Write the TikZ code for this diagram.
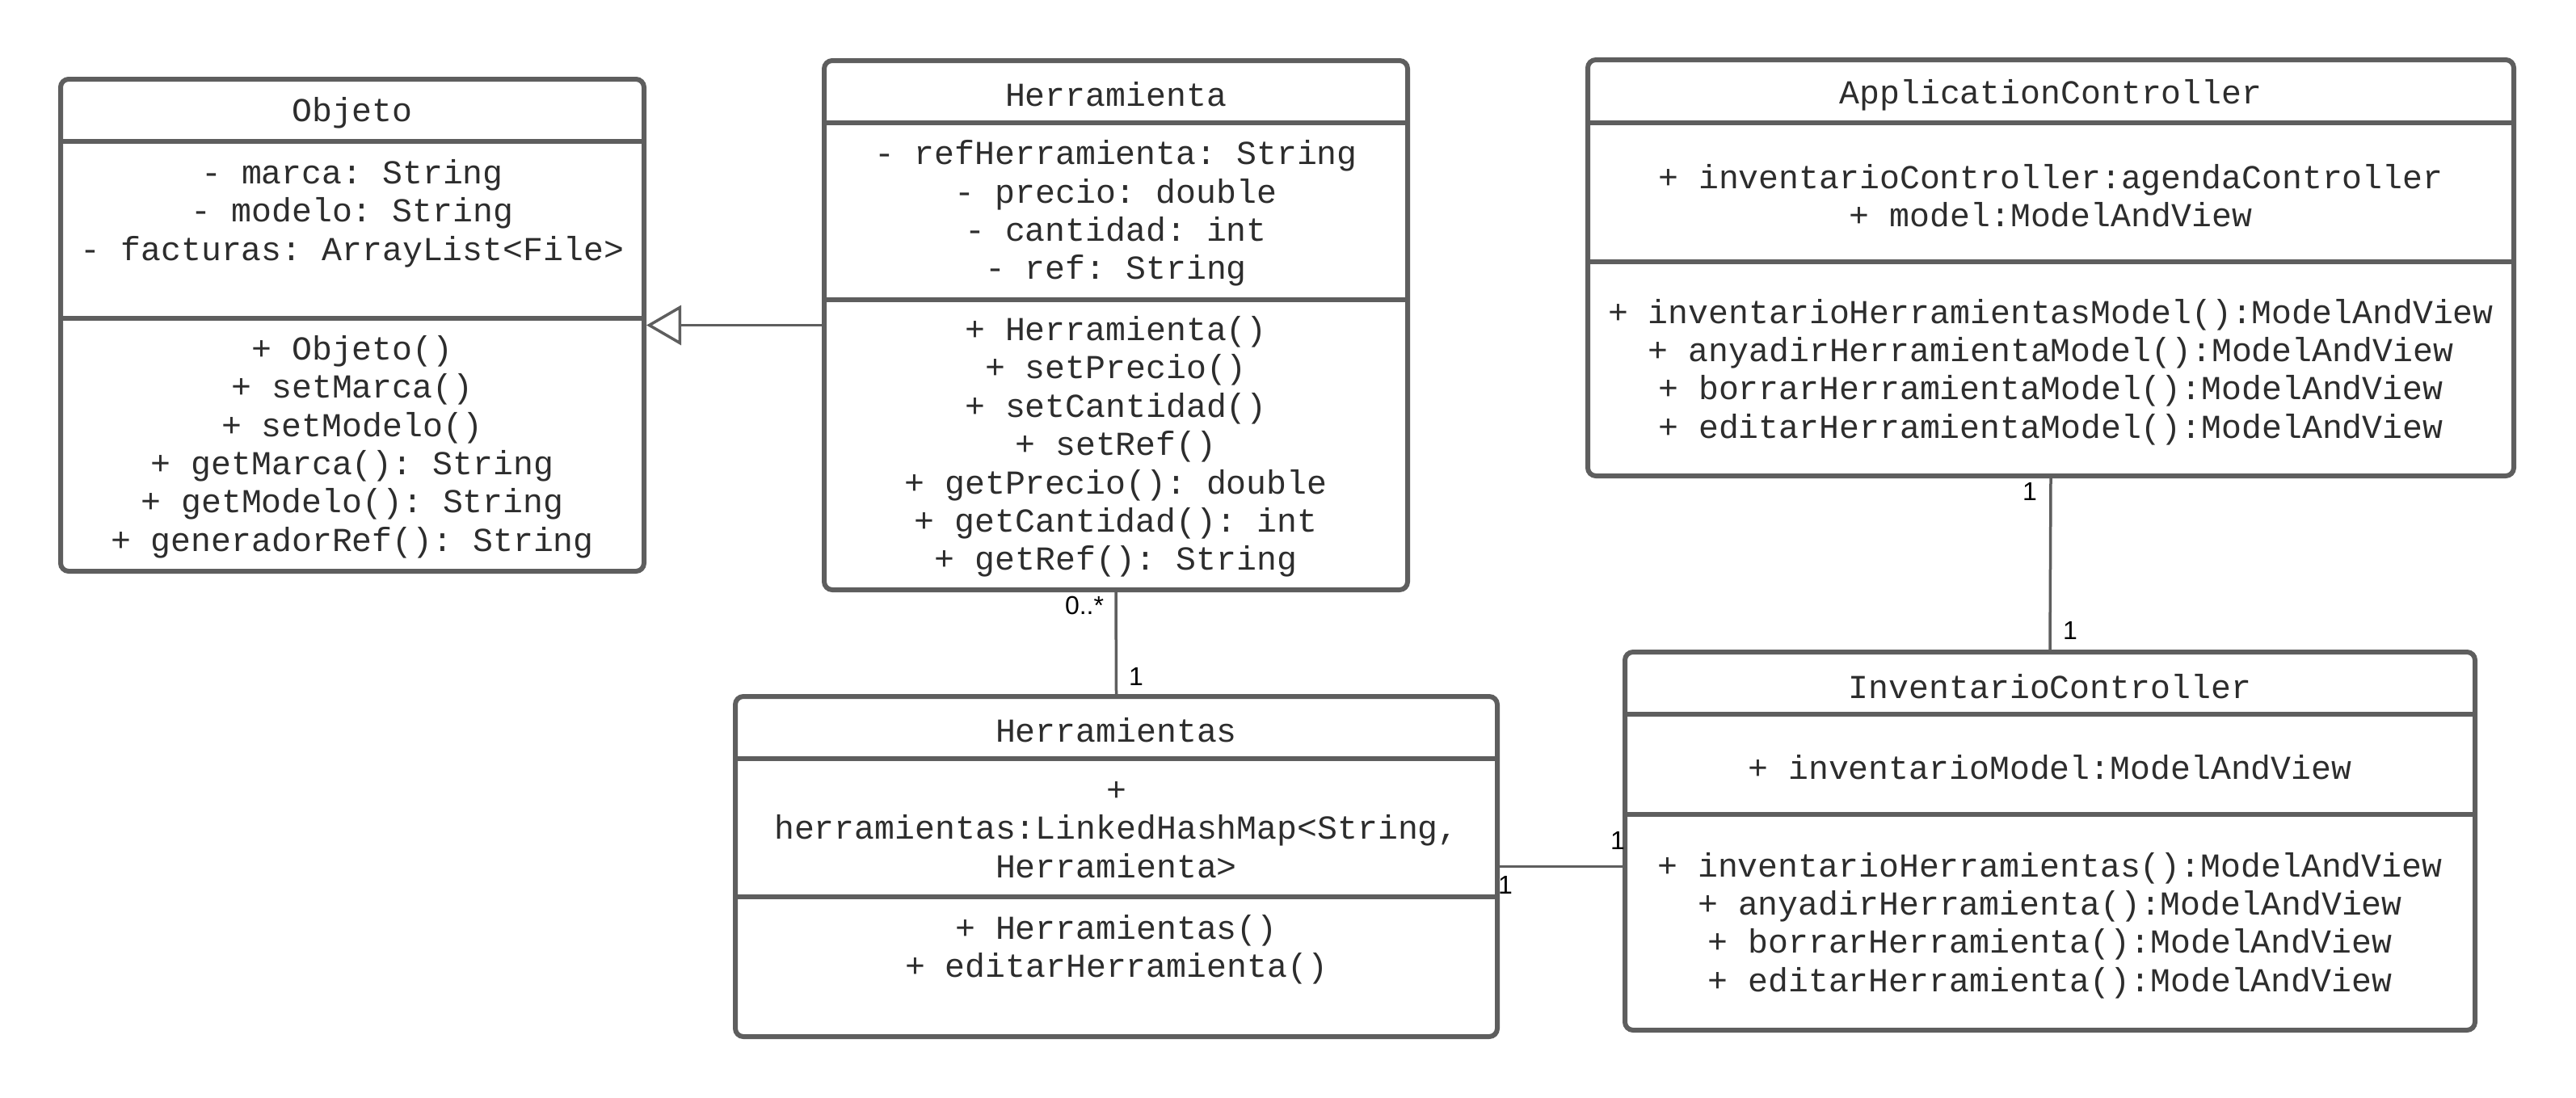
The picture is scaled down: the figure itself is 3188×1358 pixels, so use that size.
\documentclass[tikz,border=0pt]{standalone}
\usepackage{fontspec}
\setmonofont{Liberation Mono}
\newfontfamily\labfont{Liberation Sans}
\usetikzlibrary{arrows.meta}
\definecolor{strokec}{RGB}{94,94,94}
\definecolor{textc}{RGB}{45,45,45}
\tikzset{
 classbox/.style={draw=strokec, line width=6pt, rounded corners=10pt, fill=white, inner sep=0pt},
 sepline/.style={draw=strokec, line width=6pt},
 conn/.style={draw=strokec, line width=3.5pt},
 txt/.style={text=textc, font=\ttfamily\fontsize{41.5}{47.4}\selectfont, align=center, inner sep=0pt, yshift=-4pt},
 mult/.style={text=black, font=\labfont\fontsize{32}{38}\selectfont, inner sep=0pt},
}
\begin{document}
\begin{tikzpicture}[x=1pt,y=-1pt]
\useasboundingbox[fill=white] (0,0) rectangle (3188,1358);

% class boxes
\node[classbox, minimum width=722pt, minimum height=609pt] (objeto) at (436,402.5) {};
\node[classbox, minimum width=722pt, minimum height=655pt] (herramienta) at (1381,402.5) {};
\node[classbox, minimum width=1146pt, minimum height=515pt] (appc) at (2538,331.5) {};
\node[classbox, minimum width=1052pt, minimum height=468pt] (invc) at (2537,1041) {};
\node[classbox, minimum width=943pt, minimum height=421pt] (herrs) at (1381.5,1072.5) {};

% separators
\draw[sepline] (objeto.west |- 0,175) -- (objeto.east |- 0,175);
\draw[sepline] (objeto.west |- 0,394) -- (objeto.east |- 0,394);
\draw[sepline] (herramienta.west |- 0,152) -- (herramienta.east |- 0,152);
\draw[sepline] (herramienta.west |- 0,371) -- (herramienta.east |- 0,371);
\draw[sepline] (appc.west |- 0,152) -- (appc.east |- 0,152);
\draw[sepline] (appc.west |- 0,324) -- (appc.east |- 0,324);
\draw[sepline] (invc.west |- 0,884) -- (invc.east |- 0,884);
\draw[sepline] (invc.west |- 0,1008) -- (invc.east |- 0,1008);
\draw[sepline] (herrs.west |- 0,939) -- (herrs.east |- 0,939);
\draw[sepline] (herrs.west |- 0,1110) -- (herrs.east |- 0,1110);

% texts
\node[txt] (objT) at (436,136) {Objeto};
\node[txt] (objA) at (436,260) {- marca: String\\- modelo: String\\- facturas: ArrayList<File>};
\node[txt] (objM) at (436,549) {+ Objeto()\\+ setMarca()\\+ setModelo()\\+ getMarca(): String\\+ getModelo(): String\\+ generadorRef(): String};

\node[txt] (herT) at (1381,113) {Herramienta};
\node[txt] (herA) at (1381,260) {- refHerramienta: String\\- precio: double\\- cantidad: int\\- ref: String};
\node[txt] (herM) at (1381,549) {+ Herramienta()\\+ setPrecio()\\+ setCantidad()\\+ setRef()\\+ getPrecio(): double\\+ getCantidad(): int\\+ getRef(): String};

\node[txt] (appT) at (2538,114) {ApplicationController};
\node[txt] (appA) at (2538,238) {+ inventarioController:agendaController\\+ model:ModelAndView};
\node[txt] (appM) at (2538,456.5) {+ inventarioHerramientasModel():ModelAndView\\+ anyadirHerramientaModel():ModelAndView\\+ borrarHerramientaModel():ModelAndView\\+ editarHerramientaModel():ModelAndView};

\node[txt] (invT) at (2537,846) {InventarioController};
\node[txt] (invA) at (2537,946) {+ inventarioModel:ModelAndView};
\node[txt] (invM) at (2537,1141.5) {+ inventarioHerramientas():ModelAndView\\+ anyadirHerramienta():ModelAndView\\+ borrarHerramienta():ModelAndView\\+ editarHerramienta():ModelAndView};

\node[txt] (hsT) at (1381.5,900) {Herramientas};
\node[txt] (hsA) at (1381.5,1023) {+\\herramientas:LinkedHashMap<String,\\Herramienta>};
\node[txt] (hsM) at (1381.5,1171) {+ Herramientas()\\+ editarHerramienta()};

% connectors
\draw[conn, -{Triangle[open, length=43pt, width=49pt, line width=3.5pt]}] (herramienta.west) -- (objeto.east);
\draw[conn] (herramienta.south) -- (herrs.north);
\draw[conn] (appc.south) -- (invc.north);
\draw[conn] (herrs.east) -- (herrs.east -| invc.west);

% multiplicities
\node[mult] (m1) at (1342,749) {0..*};
\node[mult] (m2) at (1406,837) {1};
\node[mult] (m3) at (2512,608) {1};
\node[mult] (m4) at (2562,780) {1};
\node[mult] (m5) at (2002,1040) {1};
\node[mult] (m6) at (1863,1095) {1};
\end{tikzpicture}
\end{document}
